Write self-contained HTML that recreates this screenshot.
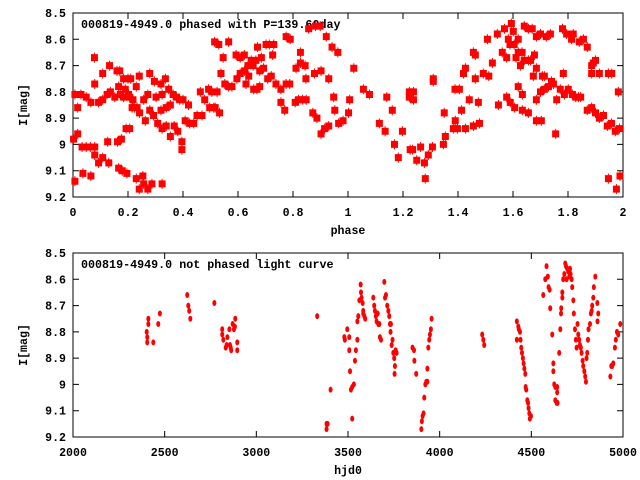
<!DOCTYPE html>
<html><head><meta charset="utf-8"><style>
body{margin:0;background:#fff}
svg{display:block}
text{font-family:"Liberation Mono",monospace;font-weight:bold;font-size:11.6px;fill:#000}
</style></head><body>
<svg id="c" width="640" height="480"></svg>
<script>
const phasePoints=[[.002,8.98],[.007,9.14],[.007,8.81],[.017,8.96],[.017,8.86],[.029,8.81],[.033,9.01],[.036,9.11],[.048,8.82],[.048,9.01],[.063,9.01],[.065,9.12],[.065,8.84],[.078,8.67],[.079,8.77],[.079,9.01],[.079,9.04],[.093,8.84],[.093,9.07],[.108,8.83],[.108,9.05],[.108,8.73],[.124,8.81],[.126,8.99],[.13,9.07],[.133,8.70],[.136,8.80],[.152,8.82],[.16,8.72],[.162,8.99],[.166,9.09],[.166,8.78],[.17,8.72],[.172,8.81],[.176,8.98],[.179,9.1],[.184,8.75],[.184,8.82],[.19,8.79],[.193,8.94],[.196,9.11],[.2,8.75],[.202,8.81],[.206,8.94],[.206,8.82],[.21,8.75],[.215,8.86],[.218,8.83],[.223,8.86],[.23,8.78],[.23,9.13],[.233,8.86],[.241,8.74],[.241,9.17],[.242,8.88],[.254,9.12],[.257,8.83],[.257,9.15],[.263,8.91],[.272,9.17],[.272,8.81],[.279,8.73],[.279,8.87],[.287,9.15],[.293,8.89],[.296,8.76],[.302,8.82],[.308,8.92],[.32,8.87],[.32,8.77],[.324,8.94],[.324,8.81],[.324,9.15],[.336,8.75],[.339,8.86],[.339,8.93],[.348,8.79],[.354,8.85],[.354,8.97],[.364,8.81],[.368,8.93],[.376,8.82],[.381,8.95],[.388,8.83],[.396,8.99],[.396,9.02],[.4,8.83],[.408,8.91],[.42,8.85],[.424,8.92],[.439,8.92],[.451,8.89],[.463,8.80],[.469,8.89],[.479,8.83],[.493,8.79],[.497,8.86],[.505,8.8],[.512,8.86],[.515,8.61],[.517,8.86],[.524,8.80],[.53,8.62],[.533,8.88],[.538,8.73],[.546,8.67],[.552,8.77],[.566,8.61],[.566,8.78],[.578,8.78],[.593,8.66],[.596,8.75],[.608,8.73],[.608,8.67],[.623,8.66],[.624,8.72],[.629,8.77],[.636,8.70],[.639,8.74],[.648,8.68],[.655,8.70],[.657,8.79],[.665,8.68],[.669,8.79],[.671,8.63],[.679,8.78],[.685,8.67],[.679,8.72],[.693,8.71],[.702,8.62],[.708,8.75],[.714,8.62],[.721,8.74],[.726,8.66],[.73,8.62],[.738,8.77],[.756,8.79],[.756,8.84],[.77,8.87],[.775,8.77],[.788,8.77],[.775,8.59],[.79,8.6],[.811,8.71],[.808,8.84],[.82,8.83],[.827,8.65],[.827,8.69],[.835,8.83],[.844,8.70],[.848,8.83],[.847,8.75],[.857,8.56],[.872,8.88],[.882,8.55],[.878,8.73],[.887,8.90],[.899,8.55],[.902,8.96],[.902,8.72],[.915,8.94],[.921,8.59],[.93,8.93],[.93,8.75],[.942,8.63],[.948,8.82],[.952,8.87],[.963,8.65],[.966,8.92],[.982,8.91],[1.002,8.88],[1.006,8.83],[1.021,8.71],[1.056,8.79],[1.078,8.81],[1.114,8.92],[1.135,8.95],[1.141,8.82],[1.161,8.87],[1.169,9.0],[1.183,9.05],[1.198,8.95],[1.223,8.80],[1.223,8.82],[1.226,9.02],[1.235,9.02],[1.238,8.80],[1.238,8.83],[1.25,9.06],[1.264,9.01],[1.278,9.07],[1.281,9.13],[1.292,9.04],[1.307,9.01],[1.31,8.75],[1.31,8.76],[1.347,9.0],[1.35,8.88],[1.354,8.97],[1.383,8.94],[1.389,8.79],[1.39,8.91],[1.398,8.94],[1.405,8.79],[1.413,8.87],[1.42,8.73],[1.427,8.94],[1.427,8.71],[1.441,8.83],[1.456,8.93],[1.456,8.65],[1.463,8.66],[1.463,8.75],[1.474,8.84],[1.478,8.92],[1.492,8.73],[1.507,8.6],[1.512,8.74],[1.525,8.69],[1.543,8.58],[1.547,8.85],[1.561,8.65],[1.569,8.56],[1.577,8.82],[1.577,8.67],[1.583,8.6],[1.589,8.62],[1.59,8.84],[1.594,8.54],[1.601,8.57],[1.604,8.62],[1.606,8.86],[1.611,8.67],[1.619,8.6],[1.619,8.65],[1.619,8.78],[1.627,8.7],[1.633,8.65],[1.634,8.87],[1.634,8.81],[1.641,8.55],[1.641,8.68],[1.656,8.68],[1.656,8.56],[1.656,8.88],[1.664,8.68],[1.67,8.56],[1.674,8.74],[1.678,8.66],[1.685,8.71],[1.685,8.83],[1.685,8.59],[1.685,8.91],[1.7,8.58],[1.7,8.80],[1.703,8.91],[1.707,8.74],[1.714,8.79],[1.714,8.74],[1.721,8.59],[1.729,8.78],[1.736,8.58],[1.74,8.76],[1.747,8.77],[1.755,8.96],[1.759,8.83],[1.772,8.79],[1.78,8.56],[1.783,8.73],[1.787,8.81],[1.795,8.58],[1.801,8.79],[1.813,8.6],[1.816,8.81],[1.819,8.58],[1.828,8.82],[1.838,8.82],[1.841,8.61],[1.846,8.82],[1.856,8.6],[1.87,8.63],[1.87,8.87],[1.886,8.7],[1.886,8.73],[1.886,8.86],[1.892,8.69],[1.9,8.68],[1.9,8.88],[1.914,8.73],[1.914,8.9],[1.929,8.89],[1.943,8.93],[1.947,8.73],[1.947,9.13],[1.958,8.92],[1.959,8.73],[1.972,8.95],[1.976,9.17],[1.983,8.8],[1.987,8.94],[1.989,9.12]];
const timePoints=[[2402,8.80],[2405,8.82],[2405,8.84],[2411,8.75],[2411,8.77],[2438,8.84],[2465,8.77],[2474,8.73],[2623,8.66],[2629,8.70],[2634,8.72],[2640,8.75],[2771,8.69],[2814,8.79],[2814,8.81],[2820,8.83],[2833,8.86],[2838,8.85],[2842,8.82],[2853,8.79],[2856,8.85],[2860,8.86],[2863,8.87],[2871,8.77],[2878,8.79],[2883,8.78],[2885,8.75],[2896,8.84],[2896,8.87],[3332,8.74],[3383,9.15],[3389,9.15],[3383,9.17],[3405,9.02],[3480,8.82],[3483,8.83],[3496,8.79],[3507,8.82],[3507,8.87],[3511,8.95],[3516,9.02],[3523,9.01],[3523,9.13],[3532,9.0],[3538,8.91],[3543,8.87],[3551,8.83],[3551,8.76],[3556,8.74],[3562,8.68],[3569,8.62],[3571,8.65],[3574,8.67],[3580,8.69],[3583,8.72],[3583,8.73],[3589,8.74],[3594,8.75],[3638,8.67],[3643,8.70],[3647,8.72],[3652,8.74],[3656,8.76],[3662,8.73],[3665,8.77],[3671,8.77],[3674,8.82],[3680,8.83],[3698,8.61],[3702,8.67],[3707,8.66],[3714,8.70],[3720,8.72],[3725,8.74],[3729,8.77],[3732,8.80],[3734,8.77],[3738,8.85],[3743,8.83],[3747,8.88],[3752,8.90],[3756,8.93],[3754,8.96],[3760,8.87],[3765,8.88],[3852,8.86],[3860,8.87],[3862,8.91],[3872,8.96],[3900,9.17],[3903,9.14],[3907,9.12],[3912,9.11],[3916,9.05],[3922,9.0],[3927,8.99],[3933,8.99],[3933,8.94],[3938,8.86],[3943,8.83],[3947,8.81],[3952,8.79],[3956,8.75],[4232,8.81],[4238,8.83],[4243,8.85],[4421,8.76],[4421,8.83],[4429,8.78],[4432,8.79],[4438,8.80],[4441,8.83],[4445,8.86],[4449,8.88],[4454,8.90],[4458,8.92],[4462,8.94],[4467,8.96],[4469,9.01],[4472,9.02],[4478,9.06],[4482,9.07],[4485,9.09],[4489,9.11],[4492,9.13],[4498,9.12],[4565,8.66],[4576,8.6],[4583,8.55],[4590,8.59],[4594,8.63],[4600,8.64],[4603,8.71],[4614,8.81],[4620,8.92],[4620,8.95],[4625,9.0],[4631,9.01],[4631,9.06],[4638,9.07],[4641,9.03],[4641,9.01],[4643,9.07],[4652,8.88],[4658,8.79],[4662,8.73],[4663,8.71],[4669,8.67],[4669,8.65],[4674,8.6],[4680,8.58],[4685,8.54],[4689,8.55],[4692,8.60],[4696,8.56],[4701,8.57],[4707,8.59],[4711,8.56],[4714,8.58],[4720,8.60],[4723,8.63],[4729,8.68],[4732,8.73],[4738,8.79],[4743,8.83],[4747,8.86],[4752,8.77],[4756,8.81],[4761,8.83],[4765,8.85],[4770,8.86],[4774,8.88],[4780,8.91],[4783,8.93],[4789,8.95],[4794,8.97],[4798,8.99],[4801,8.90],[4805,8.88],[4809,8.83],[4812,8.79],[4820,8.77],[4825,8.73],[4829,8.72],[4832,8.70],[4838,8.67],[4841,8.63],[4849,8.59],[4860,8.69],[4861,8.76],[4865,8.73],[4931,8.97],[4936,8.93],[4941,8.93],[4947,8.92],[4956,8.86],[4961,8.83],[4967,8.80],[4974,8.81],[4985,8.77]];
const yTickLabels=["8.5","8.6","8.7","8.8","8.9","9","9.1","9.2"];
const phaseTickLabels=["0","0.2","0.4","0.6","0.8","1","1.2","1.4","1.6","1.8","2"];
const hjdTickLabels=["2000","2500","3000","3500","4000","4500","5000"];

const NS="http://www.w3.org/2000/svg";
const svg=document.getElementById('c');
function mk(tag,attrs,parent){const e=document.createElementNS(NS,tag);for(const k in attrs)e.setAttribute(k,attrs[k]);(parent||svg).appendChild(e);return e;}

function panel(o){
  const g=mk('g',{});
  
  
  const L=73,R=623,T=o.top,B=o.top+184;
  const sx=v=>L+(v-o.xmin)/(o.xmax-o.xmin)*(R-L);
  const sy=v=>T+(v-8.5)/0.7*(B-T);
  yTickLabels.forEach(t=>{
    const y=sy(parseFloat(t));
    const tk=mk('path',{d:`M${L} ${y}h6M${R} ${y}h-6`,stroke:'#000','stroke-width':1},g);
    
    
    const tx=mk('text',{x:L-7,y:y+4,'text-anchor':'end'},g);tx.textContent=t;
    
    
  });
  o.xt.forEach(t=>{
    const x=sx(parseFloat(t));
    const tk=mk('path',{d:`M${x} ${B}v-6M${x} ${T}v6`,stroke:'#000','stroke-width':1},g);
    
    
    const tx=mk('text',{x:x,y:B+19,'text-anchor':'middle'},g);tx.textContent=t;
    
    
  });
  const fr=mk('rect',{x:L,y:T,width:R-L,height:B-T,fill:'none',stroke:'#000','stroke-width':1},g);
  
  
  const ttl=mk('text',{x:81,y:T+15,style:'font-size:11.7px'},g);ttl.textContent=o.title;
  
  
  const xl=mk('text',{x:348,y:B+37,'text-anchor':'middle'},g);xl.textContent=o.xlabel;
  
  
  const yl=mk('text',{x:0,y:0,'text-anchor':'middle',transform:`translate(27 ${(T+B)/2}) rotate(-90)`},g);yl.textContent='I[mag]';
  
  
  o.data.forEach(p=>{
    const x=sx(p[0]),y=sy(p[1]);
    let m;
    if(o.big){
      m=mk('path',{d:`M${x-3} ${y-3}h6v6h-6zM${x} ${y-5}v10`,fill:'#f00',stroke:'#f00','stroke-width':1},g);
    }else{
      m=mk('ellipse',{cx:x,cy:y,rx:2,ry:3,fill:'#f00'},g);
    }
    
    
  });
}
panel({name:'phased-plot',top:13,xmin:0,xmax:2,xt:phaseTickLabels,data:phasePoints,big:true,title:'000819-4949.0 phased with P=139.60day',xlabel:'phase'});
panel({name:'unphased-plot',top:253,xmin:2000,xmax:5000,xt:hjdTickLabels,data:timePoints,big:false,title:'000819-4949.0 not phased light curve',xlabel:'hjd0'});
</script>
</body></html>
